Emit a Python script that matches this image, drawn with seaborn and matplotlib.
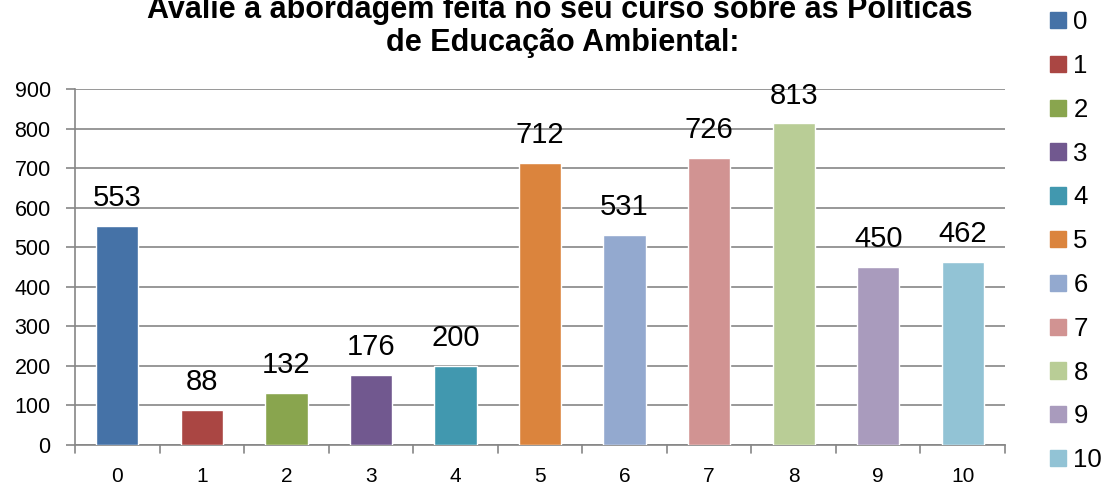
import matplotlib
matplotlib.use("Agg")
import matplotlib.pyplot as plt
import matplotlib.patches as mpatches
import seaborn as sns
import pandas as pd

categories = ["0", "1", "2", "3", "4", "5", "6", "7", "8", "9", "10"]
counts = [553, 88, 132, 176, 200, 712, 531, 726, 813, 450, 462]
colors = ["#4572A7", "#AA4643", "#89A54E", "#71588F", "#4198AF", "#DB843D",
          "#93A9CF", "#D19392", "#B9CD96", "#A99BBD", "#92C3D5"]
y_ticks = [0, 100, 200, 300, 400, 500, 600, 700, 800, 900]
title_lines = ["Avalie a abordagem feita no seu curso sobre as Políticas",
               "de Educação Ambiental:"]

sns.set_style("white")
plt.rcParams["font.family"] = ["Liberation Sans", "DejaVu Sans"]
plt.rcParams["text.color"] = "black"
plt.rcParams["xtick.color"] = "#868686"
plt.rcParams["ytick.color"] = "#868686"
plt.rcParams["xtick.labelcolor"] = "black"
plt.rcParams["ytick.labelcolor"] = "black"

W, H = 1108, 490
df = pd.DataFrame({"cat": categories, "n": counts})
palette = dict(zip(categories, colors))

fig = plt.figure(figsize=(W / 100, H / 100), dpi=100)
ax = fig.add_axes([75 / W, 1 - 445 / H, 930 / W, 356 / H])

sns.barplot(data=df, x="cat", y="n", hue="cat", palette=palette, order=categories,
            hue_order=categories, width=0.5, dodge=False, legend=False,
            saturation=1, ax=ax, zorder=3)

for c in ax.containers:
    ax.bar_label(c, padding=10, fontsize=21, color="black")

ax.set_xlim(-0.5, len(categories) - 0.5)
ax.set_ylim(0, 900)
ax.set_yticks(y_ticks)
ax.set_yticklabels([str(v) for v in y_ticks], fontsize=15.5)
ax.set_xticks(range(len(categories)))
ax.set_xticklabels(categories, fontsize=15)
ax.tick_params(axis="x", length=0, pad=16)
ax.tick_params(axis="y", length=6.5, width=1.2, pad=11, direction="out", left=True)
# tick marks on the category boundaries
for b in range(len(categories) + 1):
    ax.plot([b - 0.5, b - 0.5], [0, -8 / 356], transform=ax.get_xaxis_transform(),
            color="#868686", lw=1.2, clip_on=False, zorder=4)

ax.grid(axis="y", color="#868686", lw=1.2, zorder=0)
ax.grid(axis="x", visible=False)
for s in ["top", "right"]:
    ax.spines[s].set_visible(False)
for s in ["left", "bottom"]:
    ax.spines[s].set_color("#868686")
    ax.spines[s].set_linewidth(1.2)
ax.set_xlabel("")
ax.set_ylabel("")

# two-line bold title, the first line running past the top edge
fig.text(560 / W, 1 - 18 / H, title_lines[0], ha="center", va="baseline",
         fontsize=22, fontweight="bold")
fig.text(563 / W, 1 - 51 / H, title_lines[1], ha="center", va="baseline",
         fontsize=22, fontweight="bold")

handles = [mpatches.Patch(color=col, label=lab) for lab, col in zip(categories, colors)]
fig.legend(handles=handles, loc="upper left", bbox_to_anchor=(1040 / W, 1 + 0 / H),
           frameon=False, fontsize=18.5, handlelength=0.6, handleheight=0.6,
           handletextpad=0.3, labelspacing=0.77, borderaxespad=0)

fig.savefig("out.png", dpi=100)
